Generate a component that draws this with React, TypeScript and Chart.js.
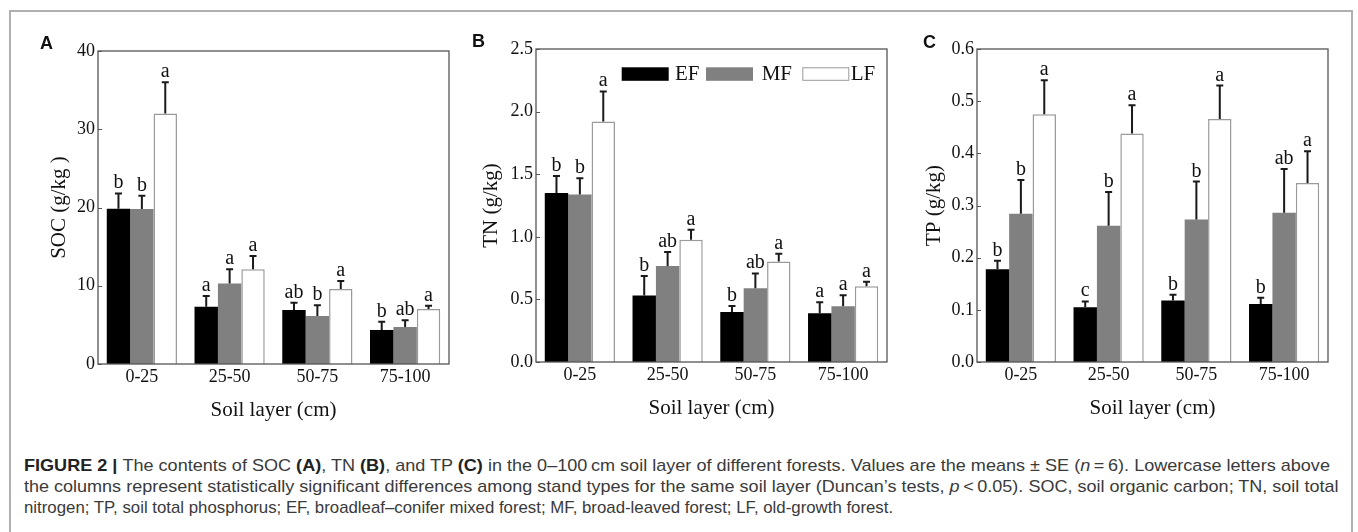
import React, { useEffect, useRef } from "react";
import { Chart, registerables } from "chart.js";

Chart.register(...registerables);

// ---------- data ----------
const layers = ["0-25", "25-50", "50-75", "75-100"];
const seriesNames = ["EF", "MF", "LF"];

// SOC (g/kg)
const socEF = [19.85, 7.33, 6.9, 4.35];
const socMF = [19.8, 10.3, 6.13, 4.73];
const socLF = [32.0, 12.1, 9.58, 7.03];
const socSeEF = [1.95, 1.37, 0.94, 1.05];
const socSeMF = [1.7, 1.8, 1.37, 0.85];
const socSeLF = [4.0, 1.7, 1.02, 0.42];
const socLetEF = ["b", "a", "ab", "b"];
const socLetMF = ["b", "a", "b", "ab"];
const socLetLF = ["a", "a", "a", "a"];
const socTicks = [0, 10, 20, 30, 40];

// TN (g/kg)
const tnEF = [1.35, 0.531, 0.4, 0.39];
const tnMF = [1.337, 0.766, 0.59, 0.446];
const tnLF = [1.921, 0.977, 0.803, 0.606];
const tnSeEF = [0.136, 0.155, 0.048, 0.088];
const tnSeMF = [0.13, 0.112, 0.117, 0.088];
const tnSeLF = [0.24, 0.08, 0.061, 0.034];
const tnLetEF = ["b", "b", "b", "a"];
const tnLetMF = ["b", "ab", "ab", "a"];
const tnLetLF = ["a", "a", "a", "a"];
const tnTicks = [0, 0.5, 1.0, 1.5, 2.0, 2.5];

// TP (g/kg)
const tpEF = [0.178, 0.105, 0.118, 0.111];
const tpMF = [0.284, 0.261, 0.273, 0.286];
const tpLF = [0.475, 0.438, 0.466, 0.343];
const tpSeEF = [0.016, 0.011, 0.011, 0.012];
const tpSeMF = [0.065, 0.065, 0.073, 0.084];
const tpSeLF = [0.065, 0.054, 0.064, 0.061];
const tpLetEF = ["b", "c", "b", "b"];
const tpLetMF = ["b", "b", "b", "ab"];
const tpLetLF = ["a", "a", "a", "a"];
const tpTicks = [0, 0.1, 0.2, 0.3, 0.4, 0.5, 0.6];

// ---------- styling ----------
const SERIF = "'Liberation Serif', 'Times New Roman', serif";
const SANS = "'Liberation Sans', Arial, sans-serif";
const barFill = ["#000000", "#808080", "#ffffff"];
const barBorder = ["#000000", "#808080", "#9a9a9a"];
const barBorderW = [0, 0, 1.5];

type Panel = {
  key: string;
  letter: string;
  yTitle: string;
  means: number[][];
  ses: number[][];
  lets: string[][];
  ticks: number[];
  decimals: number;
  left: number; // chart area left
  top: number; // chart area top
  yTitlePad: number;
  letterX: number;
  letterY: number;
  legend: boolean;
};

const panels: Panel[] = [
  {
    key: "A", letter: "A", yTitle: "SOC (g/kg )",
    means: [socEF, socMF, socLF], ses: [socSeEF, socSeMF, socSeLF], lets: [socLetEF, socLetMF, socLetLF],
    ticks: socTicks, decimals: 0, left: 98, top: 51, yTitlePad: 26.4, letterX: 40, letterY: 34, legend: false,
  },
  {
    key: "B", letter: "B", yTitle: "TN (g/kg)",
    means: [tnEF, tnMF, tnLF], ses: [tnSeEF, tnSeMF, tnSeLF], lets: [tnLetEF, tnLetMF, tnLetLF],
    ticks: tnTicks, decimals: 1, left: 536, top: 49, yTitlePad: 20.4, letterX: 472, letterY: 32, legend: true,
  },
  {
    key: "C", letter: "C", yTitle: "TP (g/kg)",
    means: [tpEF, tpMF, tpLF], ses: [tpSeEF, tpSeMF, tpSeLF], lets: [tpLetEF, tpLetMF, tpLetLF],
    ticks: tpTicks, decimals: 1, left: 977, top: 49, yTitlePad: 22.4, letterX: 923, letterY: 33, legend: false,
  },
];

const PLOT_W = 351;
const PLOT_H = 313;
const AXIS_W = 78;
const PAD_TOP = 40;
const PAD_RIGHT = 10;
const AXIS_H = 70;
const CANVAS_W = AXIS_W + PLOT_W + PAD_RIGHT;
const CANVAS_H = PAD_TOP + PLOT_H + AXIS_H;

function makeChart(canvas: HTMLCanvasElement, p: Panel) {
  const errPlugin = {
    id: "errbars" + p.key,
    afterDatasetsDraw(chart: any) {
      const ctx = chart.ctx;
      const ys = chart.scales.y;
      ctx.save();
      for (let d = 0; d < p.means.length; d++) {
        const meta = chart.getDatasetMeta(d);
        meta.data.forEach((bar: any, j: number) => {
          const x = bar.x;
          const yTop = ys.getPixelForValue(p.means[d][j] + p.ses[d][j]);
          ctx.strokeStyle = "#1a1a1a";
          ctx.lineWidth = 2;
          ctx.beginPath();
          ctx.moveTo(x, bar.y);
          ctx.lineTo(x, yTop);
          ctx.moveTo(x - 3.5, yTop);
          ctx.lineTo(x + 3.5, yTop);
          ctx.stroke();
          ctx.fillStyle = "#111";
          ctx.font = "20px " + SERIF;
          ctx.textAlign = "center";
          ctx.textBaseline = "alphabetic";
          ctx.fillText(p.lets[d][j], x, yTop - 5);
        });
      }
      ctx.restore();
    },
    afterDraw(chart: any) {
      const ctx = chart.ctx;
      const a = chart.chartArea;
      const ys = chart.scales.y;
      ctx.save();
      ctx.strokeStyle = "#555";
      ctx.lineWidth = 1.3;
      ctx.strokeRect(a.left, a.top, a.right - a.left, a.bottom - a.top);
      ctx.lineWidth = 1;
      ctx.beginPath();
      p.ticks.forEach((t) => {
        const y = Math.round(ys.getPixelForValue(t)) + 0.5;
        ctx.moveTo(a.left, y);
        ctx.lineTo(a.left + 4, y);
      });
      ctx.stroke();
      if (p.legend) {
        const boxX = [85.7, 170, 266.3];
        const textX = [139, 225.7, 314.7];
        const by = a.top + 18.3;
        ctx.font = "21px " + SERIF;
        ctx.textBaseline = "middle";
        ctx.textAlign = "left";
        chart.data.datasets.forEach((ds: any, i: number) => {
          ctx.fillStyle = barFill[i];
          ctx.fillRect(a.left + boxX[i], by, 47, 13.5);
          if (i === 2) {
            ctx.strokeStyle = "#9a9a9a";
            ctx.lineWidth = 1;
            ctx.strokeRect(a.left + boxX[i] + 0.5, by + 0.5, 46, 12.5);
          }
          ctx.fillStyle = "#111";
          ctx.fillText(ds.label, a.left + textX[i], by + 7.5);
        });
      }
      ctx.restore();
    },
  };

  return new Chart(canvas, {
    type: "bar",
    data: {
      labels: layers,
      datasets: seriesNames.map((name, i) => ({
        label: name,
        data: p.means[i],
        backgroundColor: barFill[i],
        borderColor: barBorder[i],
        borderWidth: barBorderW[i],
        categoryPercentage: 0.8,
        barPercentage: 1,
      })),
    },
    options: {
      animation: false,
      responsive: false,
      devicePixelRatio: 1,
      layout: { padding: { top: PAD_TOP, right: PAD_RIGHT, left: 0, bottom: 0 } },
      plugins: { legend: { display: false }, tooltip: { enabled: false } },
      scales: {
        x: {
          grid: { display: false, drawTicks: false },
          border: { display: false },
          ticks: { font: { family: SERIF, size: 18 }, color: "#111", padding: 2 },
          title: {
            display: true,
            text: "Soil layer (cm)",
            font: { family: SERIF, size: 21 },
            color: "#111",
            padding: 11.4,
          },
          afterFit: (s: any) => {
            s.height = AXIS_H;
          },
        },
        y: {
          min: p.ticks[0],
          max: p.ticks[p.ticks.length - 1],
          afterBuildTicks: (s: any) => {
            s.ticks = p.ticks.map((v) => ({ value: v }));
          },
          grid: { display: false, drawTicks: false },
          border: { display: false },
          ticks: {
            font: { family: SERIF, size: 18 },
            color: "#111",
            padding: 3,
            callback: (v: any) => Number(v).toFixed(p.decimals),
          },
          title: {
            display: true,
            text: p.yTitle,
            font: { family: SERIF, size: 21 },
            color: "#111",
            padding: p.yTitlePad,
          },
          afterFit: (s: any) => {
            s.width = AXIS_W;
          },
        },
      },
    },
    plugins: [errPlugin],
  } as any);
}

const captionTargets = [1306, 1314, 869];

export default function App() {
  const refs = [useRef<HTMLCanvasElement>(null), useRef<HTMLCanvasElement>(null), useRef<HTMLCanvasElement>(null)];
  const capRefs = [useRef<HTMLSpanElement>(null), useRef<HTMLSpanElement>(null), useRef<HTMLSpanElement>(null)];

  useEffect(() => {
    const charts = panels.map((p, i) => makeChart(refs[i].current as HTMLCanvasElement, p));
    capRefs.forEach((r, i) => {
      const el = r.current;
      if (!el) return;
      el.style.transform = "none";
      const w = el.offsetWidth;
      if (w > 0) el.style.transform = `scaleX(${captionTargets[i] / w})`;
    });
    return () => charts.forEach((c) => c.destroy());
  }, []);

  const capLine = (top: number, idx: number, children: React.ReactNode) => (
    <div style={{ position: "absolute", left: 24, top, whiteSpace: "nowrap", lineHeight: "21px" }}>
      <span ref={capRefs[idx]} style={{ display: "inline-block", transformOrigin: "0 0" }}>
        {children}
      </span>
    </div>
  );

  return (
    <div style={{ position: "fixed", left: 0, top: 0, width: 1358, height: 532, background: "#fff", overflow: "hidden" }}>
      <div
        style={{
          position: "absolute",
          left: 9,
          top: 10,
          width: 1344,
          height: 540,
          border: "2px solid #b0b0b0",
          boxSizing: "border-box",
        }}
      />
      {panels.map((p, i) => (
        <canvas
          key={p.key}
          ref={refs[i]}
          width={CANVAS_W}
          height={CANVAS_H}
          style={{
            position: "absolute",
            left: p.left - AXIS_W,
            top: p.top - PAD_TOP,
            width: CANVAS_W,
            height: CANVAS_H,
          }}
        />
      ))}
      {panels.map((p) => (
        <div
          key={"L" + p.key}
          style={{
            position: "absolute",
            left: p.letterX,
            top: p.letterY,
            font: `bold 18px ${SANS}`,
            lineHeight: "18px",
            color: "#111",
          }}
        >
          {p.letter}
        </div>
      ))}
      <div style={{ position: "absolute", left: 0, top: 0, font: `17px ${SANS}`, color: "#3a3a3a" }}>
        {capLine(
          455,
          0,
          <>
            <b style={{ color: "#222" }}>FIGURE 2 | </b>The contents of SOC <b style={{ color: "#222" }}>(A)</b>, TN{" "}
            <b style={{ color: "#222" }}>(B)</b>, and TP <b style={{ color: "#222" }}>(C)</b> in the 0–100{"\u2009"}cm soil
            layer of different forests. Values are the means ± SE (<i>n</i>
            {"\u2009"}={"\u2009"}6). Lowercase letters above
          </>
        )}
        {capLine(
          476,
          1,
          <>
            the columns represent statistically significant differences among stand types for the same soil layer
            (Duncan’s tests, <i>p</i>
            {"\u2009"}&lt;{"\u2009"}0.05). SOC, soil organic carbon; TN, soil total
          </>
        )}
        {capLine(
          497,
          2,
          <>
            nitrogen; TP, soil total phosphorus; EF, broadleaf–conifer mixed forest; MF, broad-leaved forest; LF,
            old-growth forest.
          </>
        )}
      </div>
    </div>
  );
}
